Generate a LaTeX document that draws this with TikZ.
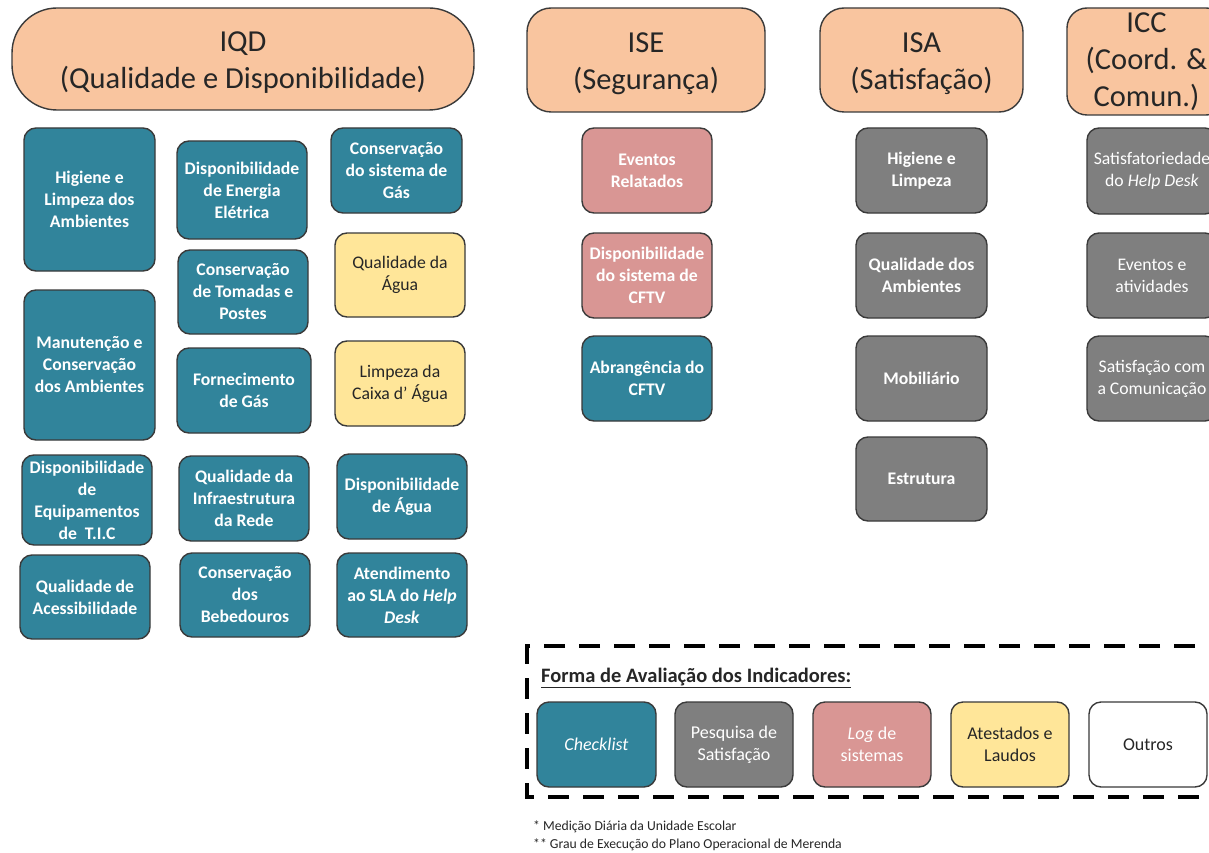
\documentclass[tikz,border=0pt]{standalone}
\usepackage{fontspec}
\setmainfont{Carlito}
\definecolor{teal}{HTML}{31849B}
\definecolor{peach}{HTML}{F9C59F}
\definecolor{pinkc}{HTML}{D99694}
\definecolor{yel}{HTML}{FFE699}
\definecolor{grayc}{HTML}{7F7F7F}
\definecolor{bord}{HTML}{3A3A3A}
\definecolor{txt}{HTML}{262626}
\tikzset{
  base/.style={draw=bord, line width=1.4pt, rounded corners=12pt, align=center, inner sep=0pt},
  tealbox/.style={base, fill=teal, text=white, font=\fontsize{17.7}{22}\selectfont\bfseries},
  graybox/.style={base, fill=grayc, text=white, font=\fontsize{17.7}{22}\selectfont\bfseries},
  pinkbox/.style={base, fill=pinkc, text=white, font=\fontsize{17.7}{22}\selectfont\bfseries},
  yelbox/.style={base, fill=yel, text=txt, font=\fontsize{17.7}{22}\selectfont},
  head/.style={base, fill=peach, text=txt, font=\fontsize{30.5}{37}\selectfont},
  leg/.style={base, font=\fontsize{18}{22}\selectfont},
}
\newcommand\bx[7]{\node[#2, minimum width={(#5-#3)*1pt}, minimum height={(#6-#4)*1pt}] (#1) at ({(#3+#5)/2},{(#4+#6)/2}) {#7};}
\newcommand\hstrut{\rule{0pt}{27pt}}
\begin{document}
\begin{tikzpicture}[x=1pt,y=-1pt]
\useasboundingbox (0,0) rectangle (1209,853);
\clip (0,0) rectangle (1209,853);
\fill[white] (0,0) rectangle (1209,853);
% headers
\bx{iqd}{head, rounded corners=45pt}{12}{8}{474}{110}{\hstrut IQD\\(Qualidade e Disponibilidade)}
\bx{ise}{head, rounded corners=24pt}{527}{8}{765}{112}{\hstrut ISE\\(Segurança)}
\bx{isa}{head, rounded corners=24pt}{820}{8}{1023}{112}{\hstrut ISA\\(Satisfação)}
\bx{icc}{head, rounded corners=20pt}{1067}{8}{1226}{115}{ICC\\(Coord. \&\\Comun.)}
% IQD column 1
\bx{a1}{tealbox}{24}{128}{155}{271}{Higiene e\\Limpeza dos\\Ambientes}
\bx{a2}{tealbox}{24}{290}{155}{440}{Manutenção e\\Conservação\\dos Ambientes}
\bx{a3}{tealbox}{22}{455}{152}{545}{Disponibilidade\\de\\Equipamentos\\de~ T.I.C}
\bx{a4}{tealbox}{20}{555}{150}{639}{Qualidade de\\Acessibilidade}
% IQD column 2
\bx{b1}{tealbox}{177}{141}{307}{239}{Disponibilidade\\de Energia\\Elétrica}
\bx{b2}{tealbox}{178}{250}{308}{334}{Conservação\\de Tomadas e\\Postes}
\bx{b3}{tealbox}{177}{348}{311}{433}{Fornecimento\\de Gás}
\bx{b4}{tealbox}{179}{456}{309}{541}{Qualidade da\\Infraestrutura\\da Rede}
\bx{b5}{tealbox}{180}{553}{310}{637}{Conservação\\dos\\Bebedouros}
% IQD column 3
\bx{c1}{tealbox}{331}{128}{462}{213}{Conservação\\do sistema de\\Gás}
\bx{c2}{yelbox}{335}{233}{465}{317}{Qualidade da\\Água}
\bx{c3}{yelbox}{335}{341}{465}{426}{Limpeza da\\Caixa d' Água}
\bx{c4}{tealbox}{337}{454}{467}{539}{Disponibilidade\\de Água}
\bx{c5}{tealbox}{337}{553}{467}{637}{Atendimento\\ao SLA do \textit{Help}\\\textit{Desk}}
% ISE
\bx{d1}{pinkbox}{582}{128}{712}{213}{Eventos\\Relatados}
\bx{d2}{pinkbox}{582}{233}{712}{318}{Disponibilidade\\do sistema de\\CFTV}
\bx{d3}{tealbox}{582}{336}{712}{421}{Abrangência do\\CFTV}
% ISA
\bx{e1}{graybox}{856}{128}{987}{213}{Higiene e\\Limpeza}
\bx{e2}{graybox}{856}{233}{987}{318}{Qualidade dos\\Ambientes}
\bx{e3}{graybox}{856}{336}{987}{421}{Mobiliário}
\bx{e4}{graybox}{856}{437}{987}{521}{Estrutura}
% ICC
\bx{f1}{graybox, font=\fontsize{17.7}{22}\selectfont}{1087}{128}{1217}{214}{Satisfatoriedade\\do \textit{Help Desk}}
\bx{f2}{graybox, font=\fontsize{17.7}{22}\selectfont}{1087}{233}{1217}{318}{Eventos e\\atividades}
\bx{f3}{graybox, font=\fontsize{17.7}{22}\selectfont}{1087}{336}{1217}{421}{Satisfação com\\a Comunicação}
% legend
\draw[line width=4pt, dash pattern=on 21pt off 14pt] (1230,646) -- (527,646) -- (527,797) -- (1230,797);
\node[anchor=base west, font=\fontsize{20.5}{22}\selectfont\bfseries, text=txt, inner sep=0pt] (lt) at (541,682) {\underline{Forma de Avaliação dos Indicadores:}};
\bx{g1}{leg, fill=teal, text=white}{537}{702}{656}{787}{\textit{Checklist}}
\bx{g2}{leg, fill=grayc, text=white}{675}{702}{793}{787}{Pesquisa de\\Satisfação}
\bx{g3}{leg, fill=pinkc, text=white}{813}{702}{931}{787}{\textit{Log} de\\sistemas}
\bx{g4}{leg, fill=yel, text=txt}{951}{702}{1069}{787}{Atestados e\\Laudos}
\bx{g5}{leg, fill=white, text=txt}{1089}{702}{1207}{787}{Outros}
% footnotes
\node[anchor=base west, font=\fontsize{13.7}{16}\selectfont, text=txt, inner sep=0pt] (n1) at (533,830) {* Medição Diária da Unidade Escolar};
\node[anchor=base west, font=\fontsize{13.7}{16}\selectfont, text=txt, inner sep=0pt] (n2) at (533,848) {** Grau de Execução do Plano Operacional de Merenda};
\end{tikzpicture}
\end{document}
